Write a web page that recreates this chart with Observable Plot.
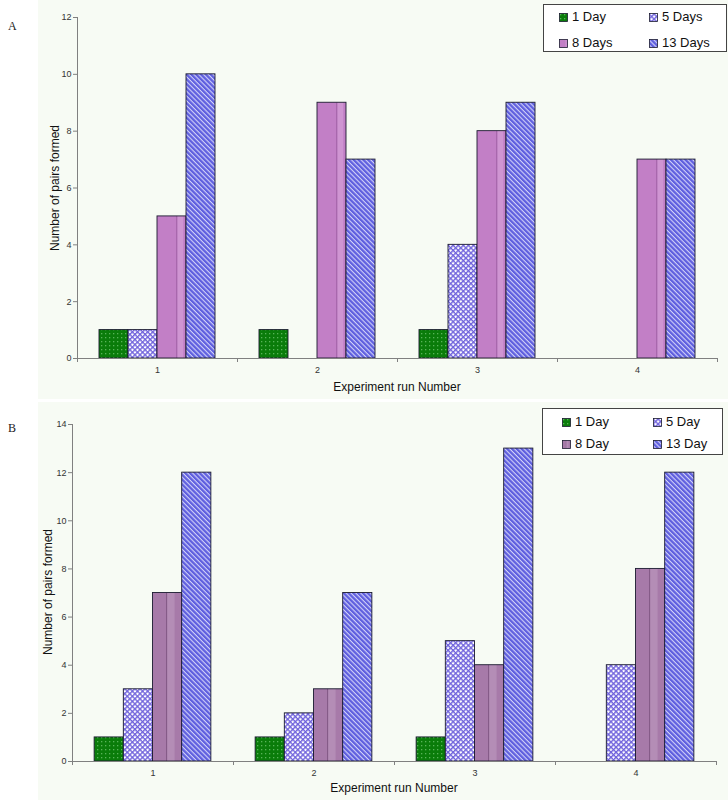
<!DOCTYPE html>
<html><head><meta charset="utf-8">
<script src="https://cdn.jsdelivr.net/npm/d3@7"></script>
<script src="https://cdn.jsdelivr.net/npm/@observablehq/plot@0.6"></script>
<style>
body{margin:0;background:#fff;font-family:"Liberation Sans",Arial,sans-serif;}
#wrap{position:relative;width:728px;height:800px;overflow:hidden;background:#fff;}
.bg{position:absolute;left:38px;width:690px;background:#f7fbf4;}
.panel{position:absolute;left:0;width:728px;}
.letter{position:absolute;font-family:"Liberation Serif","DejaVu Serif",serif;font-size:12px;color:#222;}
.xt{position:absolute;font-size:12px;color:#111;transform:translate(-50%,-50%);white-space:nowrap;}
.yt{position:absolute;font-size:12px;color:#111;transform:translate(-50%,-50%) rotate(-90deg);white-space:nowrap;}
.legend{position:absolute;border:1px solid #444;background:#fff;box-sizing:border-box;}
.li{position:absolute;font-size:13px;color:#111;white-space:nowrap;line-height:14px;}
.li svg{position:absolute;left:-13px;top:3px;}
</style>
</head><body>
<svg width="0" height="0" style="position:absolute">
<defs>
 <pattern id="p-day1" width="4" height="4" patternUnits="userSpaceOnUse">
  <rect width="4" height="4" fill="#0a7c0a"/>
  <rect x="1" y="1" width="1.3" height="1.3" fill="#58b458"/>
 </pattern>
 <pattern id="p-day5" width="3.6" height="3.6" patternUnits="userSpaceOnUse" patternTransform="rotate(45)">
  <rect width="3.6" height="3.6" fill="#ffffff"/>
  <path d="M0,0.7H3.6M0.7,0V3.6" stroke="#6f62dc" stroke-width="1.4"/>
 </pattern>
 <pattern id="p-day13" width="3.4" height="3.4" patternUnits="userSpaceOnUse" patternTransform="rotate(45)">
  <rect width="3.4" height="3.4" fill="#5f5fdf"/>
  <rect y="0" width="3.4" height="1.1" fill="#d2d2f8"/>
 </pattern>
 <pattern id="p-a-day8" width="1" height="1" patternUnits="objectBoundingBox" patternContentUnits="objectBoundingBox">
  <rect width="1" height="1" fill="#c27fc6"/>
  <rect x="0.67" width="0.035" height="1" fill="#95559a"/>
  <rect x="0.705" width="0.2" height="1" fill="#cf95d2"/>
 </pattern>
 <pattern id="p-b-day8" width="1" height="1" patternUnits="objectBoundingBox" patternContentUnits="objectBoundingBox">
  <rect width="1" height="1" fill="#a77aa9"/>
  <rect x="0.47" width="0.035" height="1" fill="#7d5380"/>
  <rect x="0.505" width="0.25" height="1" fill="#b48db6"/>
 </pattern>
</defs>
</svg>
<div id="wrap">
 <div class="bg" style="top:0;height:399px"></div>
 <div class="bg" style="top:402px;height:398px"></div>
</div>
<script>
// ---- data ----
const runs = [1, 2, 3, 4];
const seriesA = ["1 Day", "5 Days", "8 Days", "13 Days"];
const seriesB = ["1 Day", "5 Day", "8 Day", "13 Day"];
const a1Day = [1, 1, 1, 0];
const a5Days = [1, 0, 4, 0];
const a8Days = [5, 9, 8, 7];
const a13Days = [10, 7, 9, 7];
const b1Day = [1, 1, 1, 0];
const b5Day = [3, 2, 5, 4];
const b8Day = [7, 3, 4, 8];
const b13Day = [12, 7, 13, 12];
const yTicksA = [0, 2, 4, 6, 8, 10, 12];
const yTicksB = [0, 2, 4, 6, 8, 10, 12, 14];
const xTitle = "Experiment run Number";
const yTitle = "Number of pairs formed";

// ---- layout ----
const PAD = 0.1375, W = 0.18125;
const wrap = document.getElementById("wrap");

function panel(cfg) {
  const rows = [];
  cfg.values.forEach((vals, si) => vals.forEach((v, ri) => rows.push({run: runs[ri], si, value: v})));
  const bounds = [0, ...runs].map(r => r + 0.5);
  const chart = Plot.plot({
    width: 728, height: 400,
    marginLeft: cfg.ml, marginRight: cfg.mr, marginTop: cfg.mt, marginBottom: cfg.mb,
    style: {background: "transparent", fontFamily: "'Liberation Sans',Arial,sans-serif", fontSize: "9px", color: "#333"},
    x: {type: "linear", domain: [0.5, 4.5], axis: null},
    y: {domain: [0, cfg.ymax], axis: null},
    marks: [
      ...cfg.values.map((_, si) => Plot.rect(rows.filter(d => d.si === si && d.value > 0), {
        x1: d => d.run - 0.5 + PAD + si * W,
        x2: d => d.run - 0.5 + PAD + (si + 1) * W,
        y1: 0, y2: "value",
        fill: cfg.fills[si], stroke: "#1b1b30", strokeWidth: 0.9
      })),
      Plot.ruleX([0.5], {stroke: "#808080", strokeWidth: 1}),
      Plot.ruleY([0], {stroke: "#808080", strokeWidth: 1}),
      Plot.axisY({ticks: cfg.yTicks, tickSize: 4, tickPadding: 2, stroke: "#808080", fill: "#333", fontSize: 9, label: null}),
      Plot.axisX({ticks: bounds, tickFormat: () => "", tickSize: 4, stroke: "#808080", label: null}),
      Plot.axisX({ticks: runs, tickFormat: d => String(d), tickSize: 0, tickPadding: 8, fill: "#333", fontSize: 9, label: null})
    ]
  });
  const div = document.createElement("div");
  div.className = "panel";
  div.style.top = cfg.top + "px";
  div.appendChild(chart);
  wrap.appendChild(div);

  const add = (cls, txt, x, y) => {
    const e = document.createElement("div");
    e.className = cls; e.textContent = txt;
    e.style.left = x + "px"; e.style.top = y + "px";
    wrap.appendChild(e);
    return e;
  };
  add("letter", cfg.letter, cfg.letterX, cfg.letterY);
  add("xt", xTitle, cfg.xtX, cfg.xtY);
  add("yt", yTitle, cfg.ytX, cfg.ytY);

  const lg = document.createElement("div");
  lg.className = "legend";
  Object.assign(lg.style, {left: cfg.lg.x + "px", top: cfg.lg.y + "px", width: cfg.lg.w + "px", height: cfg.lg.h + "px"});
  wrap.appendChild(lg);
  cfg.series.forEach((s, i) => {
    const col = i % 2, row = Math.floor(i / 2);
    const e = document.createElement("div");
    e.className = "li";
    e.style.left = (cfg.lg.tx[col] - cfg.lg.x) + "px";
    e.style.top = (cfg.lg.ty[row] - cfg.lg.y - 7) + "px";
    e.innerHTML = `<svg width="9" height="9"><rect x="0.5" y="0.5" width="8" height="8" fill="${cfg.fills[i]}" stroke="#1b1b30" stroke-width="0.8"/></svg>`;
    e.appendChild(document.createTextNode(s));
    lg.appendChild(e);
  });
}

panel({
  top: 0, letter: "A", letterX: 8, letterY: 19,
  ml: 77, mr: 11, mt: 17, mb: 42, ymax: 12, yTicks: yTicksA,
  series: seriesA, values: [a1Day, a5Days, a8Days, a13Days],
  fills: ["url(#p-day1)", "url(#p-day5)", "url(#p-a-day8)", "url(#p-day13)"],
  xtX: 397, xtY: 387, ytX: 55, ytY: 188,
  lg: {x: 543, y: 4, w: 184, h: 48, tx: [571, 661], ty: [16, 42]}
});
panel({
  top: 400, letter: "B", letterX: 8, letterY: 421,
  ml: 72, mr: 12, mt: 24, mb: 39, ymax: 14, yTicks: yTicksB,
  series: seriesB, values: [b1Day, b5Day, b8Day, b13Day],
  fills: ["url(#p-day1)", "url(#p-day5)", "url(#p-b-day8)", "url(#p-day13)"],
  xtX: 394, xtY: 788, ytX: 48, ytY: 592,
  lg: {x: 542, y: 408, w: 181, h: 47, tx: [574, 665], ty: [421, 443]}
});
</script>
</body></html>
